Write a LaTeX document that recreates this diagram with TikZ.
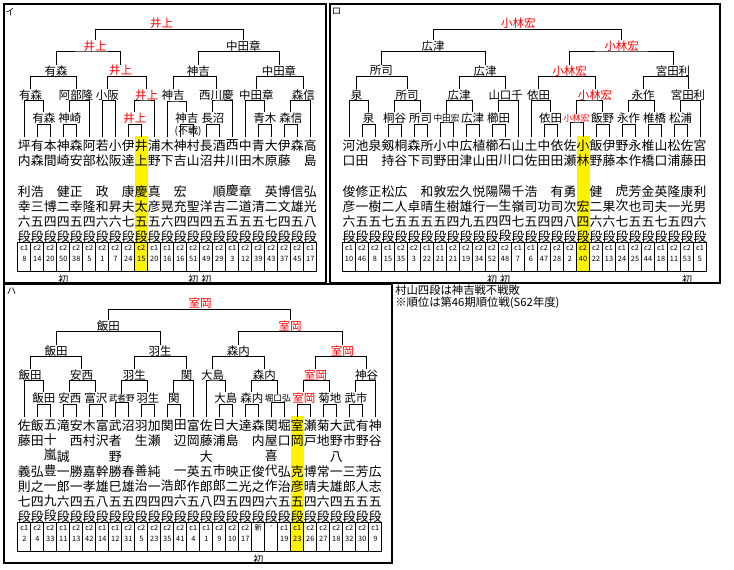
\documentclass[tikz,border=0pt]{standalone}
\usepackage{fontspec}
\setmainfont{Noto Sans CJK JP}
\usetikzlibrary{positioning}
\newcommand\namefont{\fontsize{9.6}{11.4}\selectfont}
\newcommand\lblfont{\fontsize{8.6}{10}\selectfont}
\newcommand\smallfont{\fontsize{6.5}{7}\selectfont}
\newcommand\cellfont{\fontsize{5.5}{8.6}\selectfont}

\begin{document}
\begin{tikzpicture}[x=0.75pt,y=-0.75pt]
\tikzstyle{player}=[anchor=north, inner sep=0, outer ysep=2pt, align=center, font=\namefont]
\tikzstyle{cellbox}=[draw, line width=0.75pt, minimum width=9.75pt, minimum height=21.75pt, inner sep=0]
\tikzstyle{celltext}=[inner sep=0, align=center, font=\cellfont]
\tikzstyle{main}=[inner sep=0, outer sep=0.5pt, font=\lblfont]
\tikzstyle{win}=[main, text=red]
\tikzstyle{narrow}=[font=\smallfont]
\tikzstyle{connect}=[line width=0.75pt]
\tikzstyle{panel}=[line width=1.5pt]
\tikzstyle{hatsu}=[inner sep=0, font=\fontsize{7.5}{8}\selectfont]
\tikzstyle{paneltag}=[inner sep=0, font=\fontsize{7}{8}\selectfont]
\tikzstyle{hl}=[fill=yellow]
\useasboundingbox (0,0) rectangle (734,569);

% panel i
\draw[panel] (4.3,4.3) rectangle (326.2,283.2);
\node[paneltag] (itag) at (10,11.5) {イ};
\fill[hl] (134.8,136) rectangle (147.8,271.5);
\foreach \ua/\ub/\uc/\ud/\ue/\rk/\cls/\num [count=\n] in {
  坪/内/　/利/幸/六/c1/8, 有/森/　/浩/三/五/c2/14, 本/間/　/　/博/四/c2/20,
  神/崎/　/健/二/四/c2/50, 森/安/　/正/幸/五/c2/38, 阿/部/　/　/隆/四/c2/5,
  若/松/　/政/和/六/c2/1, 小/阪/　/　/昇/六/c2/7, 伊/達/　/康/夫/七/c2/24,
  井/上/　/慶/太/五/c2/15, 浦/野/　/真/彦/五/c1/20, 木/下/　/　/晃/六/c1/16,
  神/吉/　/宏/充/四/c2/16, 村/山/　/　/聖/四/c2/51, 長/沼/　/　/洋/四/c2/49,
  酒/井/　/順/吉/五/c2/29, 西/川/　/慶/二/五/c1/3, 中/田/　/章/道/五/c2/12,
  青/木/　/　/清/五/c2/39, 大/原/　/英/二/七/c2/43, 伊/藤/　/博/文/四/c2/37,
  森/　/　/信/雄/五/c2/45, 高/島/　/弘/光/八/c1/17}
{
  \node[player] (icol\n) at ({24.3+13*(\n-1)},137.3) {\ua\\\ub\\\uc\\\ud\\\ue\\\rk\\段};
  \node[cellbox] (ibox\n) at ({24.3+13*(\n-1)},257) {};
  \node[celltext] at ({24.3+13*(\n-1)},253.3) {\cls\\\num};
}
\node[hatsu, below=2pt of ibox4] (ihatsu1) {初};
\node[hatsu, below=2pt of ibox14] (ihatsu2) {初};
\node[hatsu, below=2pt of ibox15] (ihatsu3) {初};

\node[win] (ia) at (161.7,23.3) {井上};
\node[win] (ib1) at (95,46) {井上};
\node[main] (ib2) at (243.3,46) {中田章};
\node[main] (ic1) at (56,70.7) {有森};
\node[win] (ic2) at (120.7,70.7) {井上};
\node[main] (ic3) at (198.3,70.7) {神吉};
\node[main] (ic4) at (279,70.7) {中田章};
\node[main] (id1) at (30.7,95) {有森};
\node[main] (id2) at (76,95) {阿部隆};
\node[main] (id3) at (107.3,95) {小阪};
\node[win] (id4) at (146.7,95) {井上};
\node[main] (id5) at (173,95) {神吉};
\node[main] (id6) at (216.3,95) {西川慶};
\node[main] (id7) at (256.3,95) {中田章};
\node[main] (id8) at (303.3,95) {森信};
\node[main] (ie1) at (43.8,118.3) {有森};
\node[main] (ie2) at (69.8,118.3) {神崎};
\node[win] (ie3) at (134.8,118.3) {井上};
\node[main] (ie4) at (186.8,118.3) {神吉};
\node[main] (ie5) at (212.8,118.3) {長沼};
\node[main] (ie6) at (264.8,118.3) {青木};
\node[main] (ie7) at (290.8,118.3) {森信};
\node[main, font=\fontsize{7.5}{8}\selectfont] (fusen) at (188,130.8) {(不戦)};
\draw[connect] (ib1.north) |- (ia.south) -| (ib2.north)
  (ic1.north) |- (ib1.south) -| (ic2.north)
  (ic3.north) |- (ib2.south) -| (ic4.north)
  (id1.north) |- (ic1.south) -| (id2.north)
  (id3.north) |- (ic2.south) -| (id4.north)
  (id5.north) |- (ic3.south) -| (id6.north)
  (id7.north) |- (ic4.south) -| (id8.north)
  (icol1.north) |- (id1.south) -| (ie1.north)
  (ie2.north) |- (id2.south) -| (icol6.north)
  (icol7.north) |- (id3.south) -| (icol8.north)
  (ie3.north) |- (id4.south) -| (icol11.north)
  (icol12.north) |- (id5.south) -| (ie4.north)
  (ie5.north) |- (id6.south) -| (icol17.north)
  (icol18.north) |- (id7.south) -| (ie6.north)
  (ie7.north) |- (id8.south) -| (icol23.north)
  (icol2.north) |- (ie1.south) -| (icol3.north)
  (icol4.north) |- (ie2.south) -| (icol5.north)
  (icol9.north) |- (ie3.south) -| (icol10.north)
  (icol13.north) |- (ie4.south) -| (icol14.north)
  (icol15.north) |- (ie5.south) -| (icol16.north)
  (icol19.north) |- (ie6.south) -| (icol20.north)
  (icol21.north) |- (ie7.south) -| (icol22.north);

% panel ro
\draw[panel] (329.7,4.3) rectangle (719.7,282.8);
\node[paneltag] (rtag) at (336.5,11) {ロ};
\fill[hl] (576.5,136) rectangle (589.5,271.5);
\foreach \ua/\ub/\uc/\ud/\ue/\rk/\cls/\num [count=\n] in {
  河/口/　/俊/彦/六/c1/10, 池/田/　/修/一/五/c2/46, 泉/　/　/正/樹/五/c2/8,
  剱/持/　/松/二/七/c1/15, 桐/谷/　/広/人/五/c2/35, 森/下/　/　/卓/五/c2/3,
  所/司/　/和/晴/五/c1/22, 小/野/　/敦/生/五/c1/21, 中/田/　/宏/樹/四/c2/21,
  広/津/　/久/雄/九/c2/19, 植/山/　/悦/行/五/c2/34, 櫛/田/　/陽/一/四/c2/52,
  石/川/　/陽/生/四/c2/48, 山/口/　/千/嶺/七/c1/7, 土/佐/　/浩/司/五/c1/6,
  中/田/　/　/功/四/c2/47, 依/田/　/有/司/四/c2/28, 佐/瀬/　/勇/次/八/c2/2,
  小/林/　/　/宏/四/c2/40, 飯/野/　/健/二/六/c2/22, 伊/藤/　/　/果/六/c1/13,
  野/本/　/虎/次/七/c1/24, 永/作/　/芳/也/五/c2/25, 椎/橋/　/金/司/五/c2/44,
  山/口/　/英/夫/七/c1/18, 松/浦/　/隆/一/五/c2/11, 佐/藤/　/康/光/四/c2/53,
  宮/田/　/利/男/六/c1/5}
{
  \node[player] (rcol\n) at ({349+13*(\n-1)},137.3) {\ua\\\ub\\\uc\\\ud\\\ue\\\rk\\段};
  \node[cellbox] (rbox\n) at ({349+13*(\n-1)},257) {};
  \node[celltext] at ({349+13*(\n-1)},253.3) {\cls\\\num};
}
\node[hatsu, below=2pt of rbox12] (rhatsu1) {初};
\node[hatsu, below=2pt of rbox13] (rhatsu2) {初};
\node[hatsu, below=2pt of rbox27] (rhatsu3) {初};

\node[win] (ra) at (518.3,23.3) {小林宏};
\node[main] (rb1) at (433,46) {広津};
\node[win] (rb2) at (621.7,46) {小林宏};
\node[main] (rc1) at (381.3,70.7) {所司};
\node[main] (rc2) at (485,70.7) {広津};
\node[win] (rc3) at (569.7,70.7) {小林宏};
\node[main] (rc4) at (673,70.7) {宮田利};
\node[main] (rd1) at (356.5,95) {泉};
\node[main] (rd2) at (407,95) {所司};
\node[main] (rd3) at (459,95) {広津};
\node[main] (rd4) at (505.7,95) {山口千};
\node[main] (rd5) at (538.5,95) {依田};
\node[win] (rd6) at (595,95) {小林宏};
\node[main] (rd7) at (643,95) {永作};
\node[main] (rd8) at (688,95) {宮田利};
\node[main] (re1) at (368.5,118.3) {泉};
\node[main] (re2) at (394.5,118.3) {桐谷};
\node[main] (re3) at (420.5,118.3) {所司};
\node[main, narrow] (re4) at (446.5,118.3) {中田宏};
\node[main] (re5) at (472.5,118.3) {広津};
\node[main] (re6) at (498.5,118.3) {櫛田};
\node[main] (re7) at (550.5,118.3) {依田};
\node[win, narrow] (re8) at (576.5,118.3) {小林宏};
\node[main] (re9) at (602.5,118.3) {飯野};
\node[main] (re10) at (628.5,118.3) {永作};
\node[main] (re11) at (654.5,118.3) {椎橋};
\node[main] (re12) at (680.5,118.3) {松浦};
\draw[connect] (rb1.north) |- (ra.south) -| (rb2.north)
  (rc1.north) |- (rb1.south) -| (rc2.north)
  (rc3.north) |- (rb2.south) -| (rc4.north)
  (rd1.north) |- (rc1.south) -| (rd2.north)
  (rd3.north) |- (rc2.south) -| (rd4.north)
  (rd5.north) |- (rc3.south) -| (rd6.north)
  (rd7.north) |- (rc4.south) -| (rd8.north)
  (rcol1.north) |- (rd1.south) -| (re1.north)
  (re2.north) |- (rd2.south) -| (re3.north)
  (re4.north) |- (rd3.south) -| (re5.north)
  (re6.north) |- (rd4.south) -| (rcol14.north)
  (rcol15.north) |- (rd5.south) -| (re7.north)
  (re8.north) |- (rd6.south) -| (re9.north)
  (re10.north) |- (rd7.south) -| (re11.north)
  (re12.north) |- (rd8.south) -| (rcol28.north)
  (rcol2.north) |- (re1.south) -| (rcol3.north)
  (rcol4.north) |- (re2.south) -| (rcol5.north)
  (rcol6.north) |- (re3.south) -| (rcol7.north)
  (rcol8.north) |- (re4.south) -| (rcol9.north)
  (rcol10.north) |- (re5.south) -| (rcol11.north)
  (rcol12.north) |- (re6.south) -| (rcol13.north)
  (rcol16.north) |- (re7.south) -| (rcol17.north)
  (rcol18.north) |- (re8.south) -| (rcol19.north)
  (rcol20.north) |- (re9.south) -| (rcol21.north)
  (rcol22.north) |- (re10.south) -| (rcol23.north)
  (rcol24.north) |- (re11.south) -| (rcol25.north)
  (rcol26.north) |- (re12.south) -| (rcol27.north);

% note
\node[anchor=north west, inner sep=0, align=left, font=\fontsize{8.5}{8.4}\selectfont] (note) at (395,285)
  {村山四段は神吉戦不戦敗\\※順位は第46期順位戦(S62年度)};

% panel ha
\begin{scope}[shift={(0,280)}]
\draw[panel] (4.3,4.3) rectangle (391.7,282.8);
\node[paneltag] (htag) at (11.5,11.5) {ハ};
\fill[hl] (290.8,136) rectangle (303.8,271.5);
\foreach \ua/\ub/\uc/\ud/\ue/\rk/\cls/\num [count=\n] in {
  佐/藤/　/義/則/七/c1/2, 飯/田/　/弘/之/四/c2/4, 五/十/嵐/豊/一/九/c2/33,
  滝/　/誠/一/郎/六/c1/11, 安/西/　/勝/一/四/c2/13, 木/村/　/嘉/孝/五/c2/42,
  富/沢/　/幹/雄/八/c1/14, 武/者/野/勝/巳/五/c1/12, 沼/　/　/春/雄/五/c2/31,
  羽/生/　/善/治/四/c2/5, 加/瀬/　/純/一/四/c2/23, 関/　/　/　/浩/四/c2/35,
  田/辺/　/一/郎/六/c2/41, 富/岡/　/英/作/五/c1/4, 佐/藤/大/五/郎/八/c1/1,
  日/浦/　/市/郎/四/c2/9, 大/島/　/映/二/五/c2/10, 達/　/　/正/光/四/c2/17,
  森/内/　/俊/之/四/新/~, 関/屋/喜/代/作/六/-/~, 堀/口/　/弘/治/五/c1/19,
  室/岡/　/克/彦/五/c1/23, 瀬/戸/　/博/晴/四/c2/26, 菊/地/　/常/夫/六/c2/27,
  大/野/八/一/雄/四/c2/18, 武/市/　/三/郎/五/c2/32, 有/野/　/芳/人/五/c2/30,
  神/谷/　/広/志/五/c1/9}
{
  \node[player] (hcol\n) at ({24.3+13*(\n-1)},137.3) {\ua\\\ub\\\uc\\\ud\\\ue\\\rk\\段};
  \node[cellbox] (hbox\n) at ({24.3+13*(\n-1)},257) {};
  \node[celltext] at ({24.3+13*(\n-1)},253.3) {\cls\\\num};
}
\node[hatsu, below=2pt of hbox19] (hhatsu1) {初};

\node[win] (ha) at (200,23.3) {室岡};
\node[main] (hb1) at (108.3,46) {飯田};
\node[win] (hb2) at (290,46) {室岡};
\node[main] (hc1) at (56,70.7) {飯田};
\node[main] (hc2) at (160,70.7) {羽生};
\node[main] (hc3) at (238.3,70.7) {森内};
\node[win] (hc4) at (342.3,70.7) {室岡};
\node[main] (hd1) at (30,95) {飯田};
\node[main] (hd2) at (81.7,95) {安西};
\node[main] (hd3) at (134.3,95) {羽生};
\node[main] (hd4) at (186.7,95) {関};
\node[main] (hd5) at (212.7,95) {大島};
\node[main] (hd6) at (264.3,95) {森内};
\node[win] (hd7) at (315.7,95) {室岡};
\node[main] (hd8) at (366.7,95) {神谷};
\node[main] (he1) at (43.8,118.3) {飯田};
\node[main] (he2) at (69.8,118.3) {安西};
\node[main] (he3) at (95.8,118.3) {富沢};
\node[main, narrow] (he4) at (121.8,118.3) {武者野};
\node[main] (he5) at (147.8,118.3) {羽生};
\node[main] (he6) at (173.8,118.3) {関};
\node[main] (he7) at (225.8,118.3) {大島};
\node[main] (he8) at (251.8,118.3) {森内};
\node[main, narrow] (he9) at (277.8,118.3) {堀口弘};
\node[win] (he10) at (303.8,118.3) {室岡};
\node[main] (he11) at (329.8,118.3) {菊地};
\node[main] (he12) at (355.8,118.3) {武市};
\draw[connect] (hb1.north) |- (ha.south) -| (hb2.north)
  (hc1.north) |- (hb1.south) -| (hc2.north)
  (hc3.north) |- (hb2.south) -| (hc4.north)
  (hd1.north) |- (hc1.south) -| (hd2.north)
  (hd3.north) |- (hc2.south) -| (hd4.north)
  (hd5.north) |- (hc3.south) -| (hd6.north)
  (hd7.north) |- (hc4.south) -| (hd8.north)
  (hcol1.north) |- (hd1.south) -| (he1.north)
  (he2.north) |- (hd2.south) -| (he3.north)
  (he4.north) |- (hd3.south) -| (he5.north)
  (he6.north) |- (hd4.south) -| (hcol14.north)
  (hcol15.north) |- (hd5.south) -| (he7.north)
  (he8.north) |- (hd6.south) -| (he9.north)
  (he10.north) |- (hd7.south) -| (he11.north)
  (he12.north) |- (hd8.south) -| (hcol28.north)
  (hcol2.north) |- (he1.south) -| (hcol3.north)
  (hcol4.north) |- (he2.south) -| (hcol5.north)
  (hcol6.north) |- (he3.south) -| (hcol7.north)
  (hcol8.north) |- (he4.south) -| (hcol9.north)
  (hcol10.north) |- (he5.south) -| (hcol11.north)
  (hcol12.north) |- (he6.south) -| (hcol13.north)
  (hcol16.north) |- (he7.south) -| (hcol17.north)
  (hcol18.north) |- (he8.south) -| (hcol19.north)
  (hcol20.north) |- (he9.south) -| (hcol21.north)
  (hcol22.north) |- (he10.south) -| (hcol23.north)
  (hcol24.north) |- (he11.south) -| (hcol25.north)
  (hcol26.north) |- (he12.south) -| (hcol27.north);
\end{scope}
\end{tikzpicture}
\end{document}
